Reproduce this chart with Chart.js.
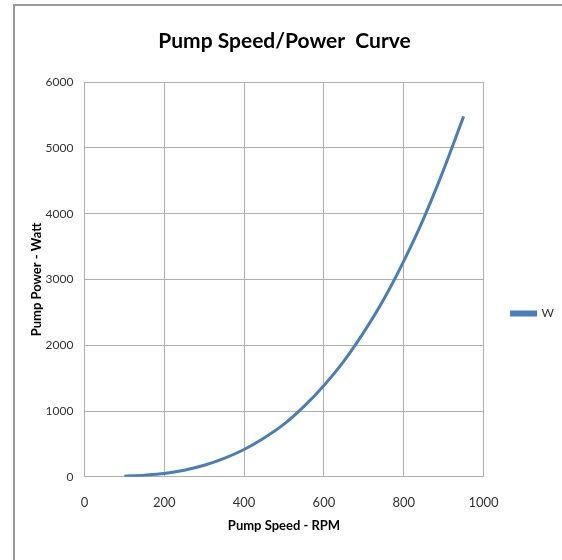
<!DOCTYPE html>
<html>
<head>
<meta charset="utf-8">
<script src="https://cdn.jsdelivr.net/npm/chart.js@4/dist/chart.umd.min.js"></script>
<style>
  html, body { margin: 0; padding: 0; background: #fff; }
  .frame { position: absolute; left: 13px; top: 4px; width: 560px; height: 570px;
           border-left: 2px solid #9a9a9a; border-top: 2px solid #9a9a9a; }
  .wrap { position: absolute; left: 0; top: 0; width: 562px; height: 560px; }
</style>
</head>
<body>
<div class="frame"></div>
<div class="wrap"><canvas id="myChart" width="562" height="560"></canvas></div>
<script>
  // pump speed (RPM) and power (W)
  const speedRpm = [100, 150, 200, 250, 300, 350, 400, 450, 500, 550, 600, 650, 700, 750, 800, 850, 900, 950];
  const powerWatt = [10, 25, 50, 100, 175, 280, 415, 590, 800, 1070, 1390, 1760, 2200, 2700, 3280, 3930, 4670, 5480];
  const seriesName = "W";

  const xTicks = [0, 200, 400, 600, 800, 1000];
  const yTicks = [0, 1000, 2000, 3000, 4000, 5000, 6000];

  const font = "Lato, 'Open Sans', sans-serif";
  const gridColor = "#b0b0b0";
  const lineColor = "#4a7ebb";

  const points = speedRpm.map((s, i) => ({ x: s, y: powerWatt[i] }));

  // nudge the legend right and down, like the Excel original
  const legendNudge = {
    id: "legendNudge",
    afterLayout(chart) {
      const lg = chart.legend;
      lg.left += 24; lg.right += 24;
      lg.top += 30; lg.bottom += 30;
    }
  };

  const ctx = document.getElementById("myChart").getContext("2d");
  new Chart(ctx, {
    type: "line",
    data: {
      datasets: [{
        label: seriesName,
        data: points,
        borderColor: lineColor,
        backgroundColor: lineColor,
        borderWidth: 3,
        pointRadius: 0,
        cubicInterpolationMode: "monotone",
        fill: false
      }]
    },
    options: {
      responsive: false,
      animation: false,
      layout: { padding: { left: 29, right: 22, top: 29, bottom: 22 } },
      plugins: {
        title: {
          display: true,
          text: "Pump Speed/Power  Curve",
          color: "#000",
          font: { family: font, size: 21 },
          padding: { top: 0, bottom: 28 }
        },
        legend: {
          position: "right",
          labels: {
            boxWidth: 24,
            boxHeight: 3,
            color: "#333",
            font: { family: font, size: 12 },
            padding: 4
          }
        },
        tooltip: { enabled: false }
      },
      scales: {
        x: {
          type: "linear",
          min: 0,
          max: 1000,
          afterBuildTicks: axis => { axis.ticks = xTicks.map(v => ({ value: v })); },
          ticks: { color: "#333", font: { family: font, size: 13 }, padding: 18, callback: v => String(v) },
          grid: { color: gridColor, drawTicks: false },
          border: { color: gridColor },
          title: {
            display: true,
            text: "Pump Speed - RPM",
            color: "#000",
            font: { family: font, size: 13, weight: "bold" },
            padding: { top: -10, bottom: 4 }
          }
        },
        y: {
          type: "linear",
          min: 0,
          max: 6000,
          afterBuildTicks: axis => { axis.ticks = yTicks.map(v => ({ value: v })); },
          ticks: { color: "#333", font: { family: font, size: 12 }, padding: 11, callback: v => String(v) },
          grid: { color: gridColor, drawTicks: false },
          border: { color: gridColor },
          title: {
            display: true,
            text: "Pump Power - Watt",
            color: "#000",
            font: { family: font, size: 13, weight: "bold" },
            padding: { top: 0, bottom: -10 }
          }
        }
      }
    },
    plugins: [legendNudge]
  });
</script>
</body>
</html>
